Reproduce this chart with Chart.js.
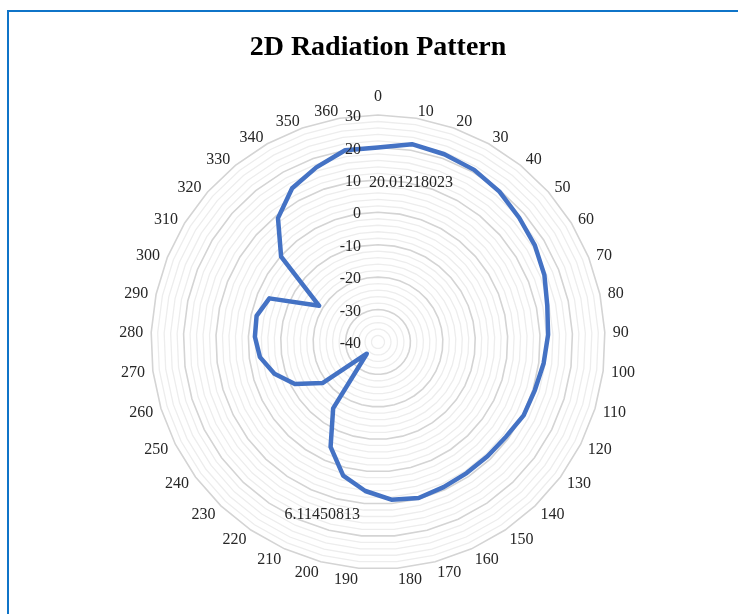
<!DOCTYPE html>
<html>
<head>
<meta charset="utf-8">
<title>2D Radiation Pattern</title>
<script src="https://cdn.jsdelivr.net/npm/chart.js@4.4.1/dist/chart.umd.min.js"></script>
<style>
  body { margin: 0; background: #fff; }
  #wrap { position: relative; width: 738px; height: 614px; overflow: hidden; }
  #frame { position: absolute; left: 7px; top: 10px; width: 760px; height: 640px; border: 2px solid #0f74c8; }
  #chart { position: absolute; left: 0; top: 0; }
</style>
</head>
<body>
<div id="wrap">
  <div id="frame"></div>
  <canvas id="chart" width="738" height="614"></canvas>
</div>
<script>
// angle categories (degrees)
const angles = ['0', '10', '20', '30', '40', '50', '60', '70', '80', '90', '100', '110', '120',
    '130', '140', '150', '160', '170', '180', '190', '200', '210', '220', '230', '240', '250',
    '260', '270', '280', '290', '300', '310', '320', '330', '340', '350', '360'];

// gain in dB
const gainDb = [20.01218023, 21.9, 21.4, 20.8, 19.6, 18.0, 16.8, 15.3, 13.4, 12.5, 11.5, 10.6, 10.3,
    9.1, 8.8, 8.8, 9.1, 9.7, 8.8, 6.11450813, 2.6, -4.5, -15.3, -35.0, -18.7, -11.3,
    -6.6, -3.3, -2.0, -1.7, -3.9, -18.7, -0.2, 9.1, 14.3, 17.1, 20.0];

// labelled radial ticks
const majorTicks = [-40, -30, -20, -10, 0, 10, 20, 30];

// points that carry a value callout, and where the callout sits relative to the point
const calloutPoints = [0, 19];
const calloutOffsets = [[33, 35], [-43, 24]];

const serif = '"Liberation Serif", "DejaVu Serif", serif';
const labelColor = '#262626';

// Excel style labels: angle names just outside the outer ring (left/right anchored,
// vertically centred), tick values right aligned left of the vertical axis, value callouts
const radialLabels = {
    id: 'radialLabels',
    afterDatasetsDraw(chart) {
        const r = chart.scales.r;
        const ctx = chart.ctx;
        ctx.save();
        ctx.font = '16px ' + serif;
        ctx.fillStyle = labelColor;

        angles.forEach((text, i) => {
            const a = r.getIndexAngle(i);
            const sin = Math.sin(a), cos = Math.cos(a);
            const p = r.getPointPosition(i, r.drawingArea + 8);
            if (Math.abs(sin) < 1e-6) {
                ctx.textAlign = 'center';
                ctx.textBaseline = 'bottom';
                ctx.fillText(text, p.x, p.y - 2);
            } else {
                ctx.textAlign = sin > 0 ? 'left' : 'right';
                ctx.textBaseline = 'middle';
                ctx.fillText(text, p.x, p.y + 1 + 2.5 * Math.max(0, -cos));
            }
        });

        ctx.textAlign = 'right';
        ctx.textBaseline = 'middle';
        majorTicks.forEach(v => {
            const d = r.getDistanceFromCenterForValue(v);
            ctx.fillText(String(v), r.xCenter - 17, r.yCenter - d + 2);
        });

        const meta = chart.getDatasetMeta(0);
        ctx.textAlign = 'center';
        calloutPoints.forEach((i, k) => {
            const pt = meta.data[i];
            ctx.fillText(String(gainDb[i]), pt.x + calloutOffsets[k][0], pt.y + calloutOffsets[k][1]);
        });
        ctx.restore();
    }
};

new Chart(document.getElementById('chart'), {
    type: 'radar',
    data: {
        labels: angles,
        datasets: [{
            label: 'Gain',
            data: gainDb,
            borderColor: '#4472c4',
            borderWidth: 4.5,
            borderJoinStyle: 'round',
            pointRadius: 0,
            pointHoverRadius: 0,
            fill: false,
            tension: 0
        }]
    },
    options: {
        responsive: false,
        animation: false,
        layout: { padding: { left: 18, right: 0, top: 0, bottom: 45 } },
        plugins: {
            legend: { display: false },
            tooltip: { enabled: false },
            title: {
                display: true,
                text: '2D Radiation Pattern',
                color: '#000',
                font: { family: serif, size: 28, weight: 'bold' },
                padding: { top: 31, bottom: 50.4 }
            }
        },
        scales: {
            r: {
                min: -40,
                max: 30,
                ticks: { stepSize: 2, display: false },
                grid: {
                    color: ctx => (ctx.tick && ctx.tick.value % 10 === 0) ? '#d4d4d4' : '#ededed',
                    lineWidth: ctx => (ctx.tick && ctx.tick.value % 10 === 0) ? 1.6 : 1.3
                },
                angleLines: { display: false },
                pointLabels: { display: false }
            }
        }
    },
    plugins: [radialLabels]
});
</script>
</body>
</html>
